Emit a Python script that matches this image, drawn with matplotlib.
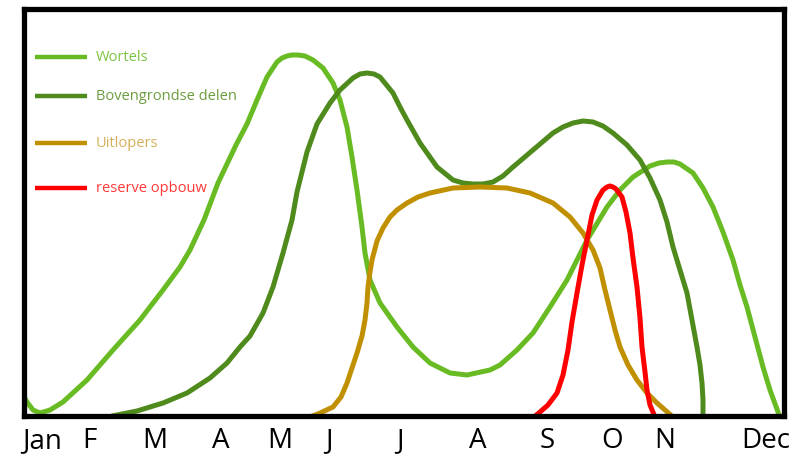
import matplotlib
matplotlib.use("Agg")
import matplotlib.pyplot as plt

plt.rcParams['font.family'] = ['Open Sans', 'DejaVu Sans']

# x: position across the year (0 = start of Jan, 760 = end of Dec), y: relative growth
month_pos = [18, 65, 131, 197, 256, 305, 376, 454, 523, 588, 641, 742]
month_labels = ['Jan', 'F', 'M', 'A', 'M', 'J', 'J', 'A', 'S', 'O', 'N', 'Dec']

wortels_x = [0, 3, 9, 16, 26, 39, 63, 89, 116, 139, 156, 166, 180, 194, 212, 223,
             233, 243, 253, 258, 263, 268, 274, 281, 289, 299, 309, 316, 323, 328,
             333, 338, 341, 346, 356, 373, 389, 406, 426, 443, 466, 476, 493, 509,
             526, 543, 563, 583, 596, 609, 626, 635, 643, 650, 656, 669, 679, 689,
             699, 709, 716, 723, 731, 739, 746, 754, 756]
wortels_y = [19, 14, 6, 3, 6, 14, 36, 66, 96, 126, 149, 166, 196, 233, 271, 292,
             316, 339, 354, 358, 360, 361, 361, 360, 356, 348, 333, 316, 289, 259,
             226, 189, 163, 136, 113, 89, 69, 53, 43, 41, 46, 51, 66, 83, 109, 136,
             176, 209, 226, 239, 250, 253, 254, 254, 252, 243, 228, 209, 184, 156,
             131, 109, 79, 49, 26, 4, -2]

boven_x = [88, 113, 139, 163, 186, 203, 216, 226, 239, 249, 259, 268, 273, 283, 293,
           306, 316, 329, 336, 343, 350, 356, 369, 376, 383, 396, 413, 429, 439, 449,
           459, 469, 479, 489, 509, 529, 539, 549, 559, 569, 579, 589, 603, 616, 626,
           636, 643, 649, 656, 663, 668, 673, 676, 678, 679, 679]
boven_y = [0, 5, 13, 23, 38, 53, 69, 80, 103, 129, 163, 196, 224, 264, 292, 313,
           326, 338, 342, 343, 342, 339, 323, 309, 296, 273, 249, 236, 233, 232, 232,
           234, 240, 249, 266, 283, 289, 293, 295, 294, 290, 283, 271, 256, 238, 216,
           194, 169, 146, 123, 96, 69, 51, 33, 16, -2]

uitlopers_x = [286, 296, 309, 317, 323, 328, 333, 338, 341, 343, 344, 346, 348, 353,
               359, 366, 373, 383, 394, 406, 429, 456, 483, 506, 529, 546, 559, 569,
               576, 581, 586, 591, 596, 604, 613, 623, 633, 641, 649]
uitlopers_y = [-1, 3, 9, 19, 33, 48, 63, 80, 96, 113, 129, 144, 156, 175, 188, 199,
               206, 213, 219, 223, 228, 229, 228, 223, 213, 199, 183, 166, 148, 126,
               106, 86, 69, 51, 36, 23, 13, 6, -1]

reserve_x = [510, 516, 524, 533, 539, 544, 548, 553, 558, 563, 568, 573, 579, 583,
             586, 589, 592, 598, 602, 606, 609, 613, 616, 618, 621, 623, 626, 631]
reserve_y = [-1, 4, 11, 23, 41, 66, 94, 123, 151, 176, 201, 216, 226, 229, 230, 229,
             227, 219, 204, 183, 158, 129, 98, 69, 44, 26, 11, -1]

series = [
    ('Wortels', wortels_x, wortels_y, '#69bb24', '#7cc444'),
    ('Bovengrondse delen', boven_x, boven_y, '#4f8a1c', '#6b9c3e'),
    ('Uitlopers', uitlopers_x, uitlopers_y, '#c09000', '#d4ae58'),
    ('reserve opbouw', reserve_x, reserve_y, '#ff0000', '#ff3838'),
]
legend_y = [359, 320, 273, 228]

fig = plt.figure(figsize=(7.94, 4.62), dpi=100)
ax = fig.add_axes([24 / 794, 46 / 462, 760 / 794, 407 / 462])
ax.set_xlim(0, 760)
ax.set_ylim(0, 407)

for (name, xs, ys, col, tcol), ly in zip(series, legend_y):
    ax.plot(xs, ys, color=col, lw=3.6, solid_capstyle='round', solid_joinstyle='round')
    # legend drawn inside the box
    ax.plot([11, 63], [ly, ly], color=col, lw=3.2, solid_capstyle='butt')
    ax.text(72, ly, name, color=tcol, fontsize=10.5, va='center', ha='left')

for s in ax.spines.values():
    s.set_linewidth(3.8)
    s.set_color('black')

ax.set_yticks([])
ax.set_xticks(month_pos)
ax.set_xticklabels(month_labels, fontsize=20)
ax.tick_params(axis='x', length=0, pad=8)

fig.savefig('out.png', dpi=100)
